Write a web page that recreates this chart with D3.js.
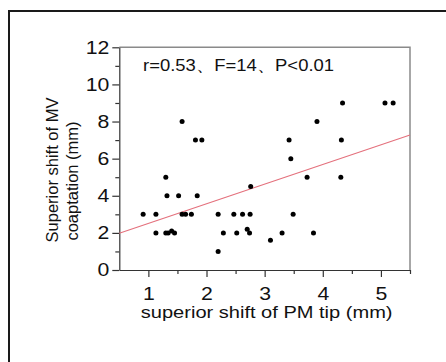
<!DOCTYPE html>
<html>
<head>
<meta charset="utf-8">
<script src="https://cdn.jsdelivr.net/npm/d3@7"></script>
<style>
  body { margin: 0; background: #fff; }
  svg { display: block; }
  text { font-family: "Liberation Sans", Arial, sans-serif; fill: #111; }
</style>
</head>
<body>
<svg id="chart" width="446" height="362"></svg>
<script>
// data
const xVals = [0.91, 1.13, 1.13, 1.30, 1.32, 1.30, 1.34, 1.40, 1.45, 1.52,
  1.58, 1.58, 1.64, 1.74, 1.81, 1.92, 1.84, 2.20, 2.20, 2.29,
  2.47, 2.52, 2.62, 2.70, 2.74, 2.75, 2.76, 3.10, 3.30, 3.42,
  3.45, 3.49, 3.73, 3.84, 3.90, 4.31, 4.32, 4.34, 5.07, 5.21];
const yVals = [3, 3, 2, 5, 4, 2, 2, 2.1, 2, 4,
  8, 3, 3, 3, 7, 7, 4, 3, 1, 2,
  3, 2, 3, 2.2, 2, 3, 4.5, 1.6, 2, 7,
  6, 3, 5, 2, 8, 5, 7, 9, 9, 9];
const fitX = [0.5, 5.5];
const fitY = [1.98, 7.27];
const xTicks = [1, 2, 3, 4, 5];
const xMinor = [1.5, 2.5, 3.5, 4.5, 5.5];
const yTicks = [0, 2, 4, 6, 8, 10, 12];
const yMinor = [1, 3, 5, 7, 9, 11];
const statText = "r=0.53、F=14、P<0.01";
const xTitle = "superior shift of PM tip (mm)";
const yTitle = ["Superior shift of MV", "coaptation (mm)"];

const SX = 1.18; // the original picture is stretched sideways
const svg = d3.select("#chart");

// outer frame
svg.append("rect")
  .attr("x", 9).attr("y", 11)
  .attr("width", 460).attr("height", 380)
  .attr("fill", "none").attr("stroke", "#1a1a1a").attr("stroke-width", 2);

const plotL = 119.3, plotR = 410, plotT = 47.3, plotB = 270;
const x = d3.scaleLinear().domain([0.5, 5.5]).range([plotL, plotR]);
const y = d3.scaleLinear().domain([0, 12]).range([plotB, plotT]);

// top and right frame lines
svg.append("path")
  .attr("d", `M${plotL},${plotT}H${plotR}V${plotB}`)
  .attr("fill", "none").attr("stroke", "#8a8a8a").attr("stroke-width", 1.5);

// minor ticks
svg.append("g")
  .attr("transform", `translate(0,${plotB})`)
  .call(d3.axisBottom(x).tickValues(xMinor).tickSize(4).tickFormat(""))
  .call(g => g.select(".domain").remove());
svg.append("g")
  .attr("transform", `translate(${plotL},0)`)
  .call(d3.axisLeft(y).tickValues(yMinor).tickSize(4).tickFormat(""))
  .call(g => g.select(".domain").remove());

// main axes
const xAxis = svg.append("g")
  .attr("transform", `translate(0,${plotB})`)
  .call(d3.axisBottom(x).tickValues(xTicks).tickFormat(d3.format("d"))
    .tickSize(7).tickSizeOuter(0).tickPadding(10));
xAxis.selectAll("text")
  .attr("transform", `scale(${SX},1)`)
  .style("font-size", "18px")
  .style("font-family", '"Liberation Sans", Arial, sans-serif')
  .attr("fill", "#111");

const yAxis = svg.append("g")
  .attr("transform", `translate(${plotL},0)`)
  .call(d3.axisLeft(y).tickValues(yTicks).tickFormat(d3.format("d"))
    .tickSize(7).tickSizeOuter(0));
yAxis.selectAll("text")
  .attr("x", 0)
  .attr("transform", `translate(-10,0) scale(${SX},1)`)
  .style("font-size", "18px")
  .style("font-family", '"Liberation Sans", Arial, sans-serif')
  .attr("fill", "#111");

svg.selectAll(".domain, .tick line").attr("stroke", "#333").attr("stroke-width", 1.2);

// regression line
svg.append("line")
  .attr("x1", x(fitX[0])).attr("y1", y(fitY[0]))
  .attr("x2", x(fitX[1])).attr("y2", y(fitY[1]))
  .attr("stroke", "#e4707c").attr("stroke-width", 1.1);

// points
svg.append("g")
  .selectAll("circle")
  .data(xVals.map((v, i) => ({ x: v, y: yVals[i] })))
  .enter()
  .append("circle")
  .attr("cx", d => x(d.x))
  .attr("cy", d => y(d.y))
  .attr("r", 2.5)
  .attr("fill", "#000");

// stats text
svg.append("text")
  .attr("transform", `translate(143,71)`)
  .attr("textLength", 191)
  .attr("lengthAdjust", "spacingAndGlyphs")
  .style("font-size", "17px")
  .text(statText);

// axis titles
svg.append("text")
  .attr("transform", `translate(${(plotL + plotR) / 2 + 2},318) scale(${SX},1)`)
  .attr("text-anchor", "middle")
  .style("font-size", "17px")
  .text(xTitle);

yTitle.forEach((t, i) => {
  svg.append("text")
    .attr("transform", `translate(${58 + i * 20},${170 + i * 11}) rotate(-90)`)
    .attr("text-anchor", "middle")
    .style("font-size", "16.5px")
    .text(t);
});
</script>
</body>
</html>
